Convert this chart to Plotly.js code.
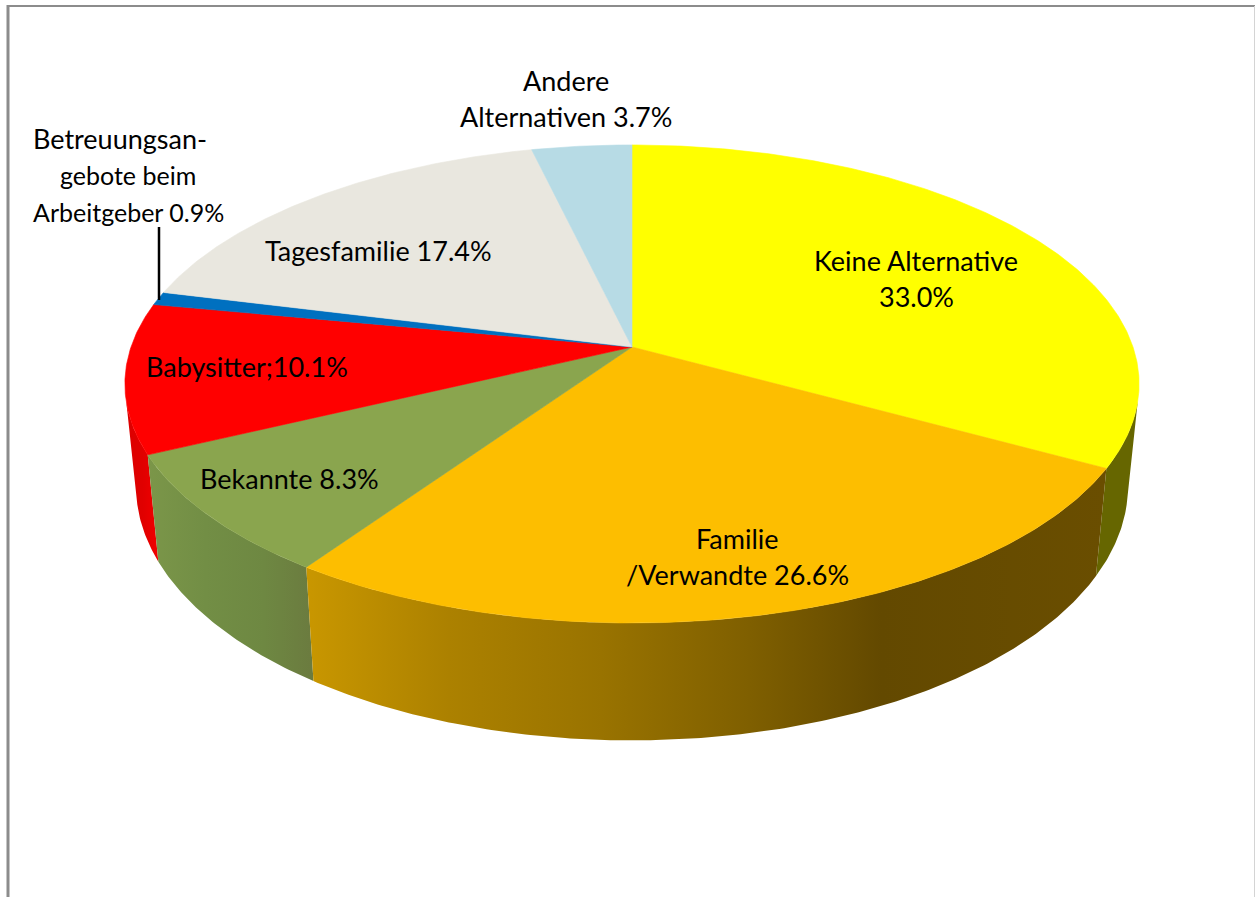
<!DOCTYPE html>
<html>
<head>
<meta charset="utf-8">
<script src="https://cdn.plot.ly/plotly-3.0.1.min.js"></script>
<style>html,body{margin:0;padding:0;background:#fff;overflow:hidden}#chart{width:1255px;height:897px}</style>
</head>
<body>
<div id="chart"></div>
<script>
// Data, clockwise from 12 o'clock
const categories = ["Keine Alternative","Familie /Verwandte","Bekannte","Babysitter","Betreuungsangebote beim Arbeitgeber","Tagesfamilie","Andere Alternativen"];
const shares = [33.0,26.6,8.3,10.1,0.9,17.4,3.7];
const labelTexts = ["Keine Alternative","33.0%","Familie","/Verwandte 26.6%","Bekannte 8.3%","Babysitter;10.1%","Betreuungsan-","gebote beim","Arbeitgeber 0.9%","Tagesfamilie 17.4%","Andere","Alternativen 3.7%"];

// Styling and placement
const topColors = ["#ffff00","#fdbe00","#8aa54e","#ff0000","#0070c0","#e9e7df","#b7dbe5"];
const wallSlices = [0,3,2,1];
const wallScales = {
  0:[[0,"#666600"],[1,"#666600"]],
  3:[[0,"#dc0000"],[0.5,"#e00000"],[1,"#f40000"]],
  2:[[0,"#7b9649"],[0.35,"#728e45"],[0.7,"#6e8842"],[1,"#6b7b3f"]],
  1:[[0,"#c99700"],[0.18,"#ac8100"],[0.37,"#997300"],[0.556,"#7f5f00"],[0.72,"#634900"],[1,"#6a4e00"]]
};
const wallRanges = {0:[1090,1140],3:[125,160],2:[148,313],1:[305,1105]};
const labelX = [916,916,737,737,289,247,120,128,128,378,566,566];
const labelY = [260.5,296.5,538.5,574.5,478.5,366.5,138.5,174.5,211.5,250.5,80.5,116.5];
const labelSize = [27,27,27,27,27,27,27,25,25,27,27,27];

// Projection of the pie disc
const cx = 632, persp = 0.1547;
const topFace = {A:501, B:233.3, y0:347};
const botFace = {A:490, B:248, y0:447};
const frontFrom = 103, frontTo = 257; // angles between which the side wall faces the viewer
function project(face, deg){
  const r = deg*Math.PI/180, s = Math.sin(r), c = Math.cos(r), w = 1+persp*c;
  return [cx+face.A*s/w, face.y0-face.B*c/w];
}
function arc(face, a0, a1){
  const n = Math.max(2, Math.ceil(Math.abs(a1-a0)*2)), pts = [];
  for(let i=0;i<=n;i++) pts.push(project(face, a0+(a1-a0)*i/n));
  return pts;
}
let acc = 0;
const spans = shares.map(v=>{const a=acc*3.6; acc+=v; return [a, acc*3.6];});

const traces = [];
// walls
wallSlices.forEach(i=>{
  const a0 = Math.max(spans[i][0],frontFrom), a1 = Math.min(spans[i][1],frontTo);
  const pts = arc(topFace,a0,a1).concat(arc(botFace,a1,a0));
  pts.push(pts[0]);
  traces.push({
    type:"scatter",mode:"lines",name:categories[i]+" (Seite)",
    x:pts.map(p=>p[0]),y:pts.map(p=>p[1]),
    fill:"toself",line:{width:0},hoverinfo:"skip",showlegend:false,
    fillgradient:{type:"horizontal",colorscale:wallScales[i],start:wallRanges[i][0],stop:wallRanges[i][1]}
  });
});
// top faces
shares.forEach((v,i)=>{
  const [a0,a1] = spans[i];
  const pts = [[cx,topFace.y0]].concat(arc(topFace,a0,a1));
  pts.push([cx,topFace.y0]);
  traces.push({
    type:"scatter",mode:"lines",name:categories[i],
    x:pts.map(p=>p[0]),y:pts.map(p=>p[1]),
    fill:"toself",fillcolor:topColors[i],line:{width:0.6,color:topColors[i]},
    text:categories[i]+" "+v+"%",hoverinfo:"text",showlegend:false
  });
});

const layout = {
  width:1255,height:897,margin:{l:0,r:0,t:0,b:0},
  paper_bgcolor:"#fff",plot_bgcolor:"#fff",showlegend:false,
  xaxis:{range:[0,1255],visible:false,fixedrange:true},
  yaxis:{range:[897,0],visible:false,fixedrange:true},
  shapes:[
    {type:"line",xref:"x",yref:"y",x0:7,x1:1255,y0:6,y1:6,line:{color:"#8c8c8c",width:2}},
    {type:"line",xref:"x",yref:"y",x0:8,x1:8,y0:5,y1:897,line:{color:"#8c8c8c",width:3}},
    {type:"line",xref:"x",yref:"y",x0:1254.5,x1:1254.5,y0:6,y1:897,line:{color:"#d4d4d4",width:1}},
    {type:"line",xref:"x",yref:"y",x0:159,x1:159,y0:227,y1:300,line:{color:"#000",width:2.5}}
  ],
  annotations:labelTexts.map((t,i)=>({
    xref:"x",yref:"y",x:labelX[i],y:labelY[i],text:t,showarrow:false,
    xanchor:"center",yanchor:"middle",
    font:{family:"Lato, sans-serif",size:labelSize[i],color:"#000"}
  }))
};
Plotly.newPlot("chart",traces,layout,{displayModeBar:false,staticPlot:true});
</script>
</body>
</html>
